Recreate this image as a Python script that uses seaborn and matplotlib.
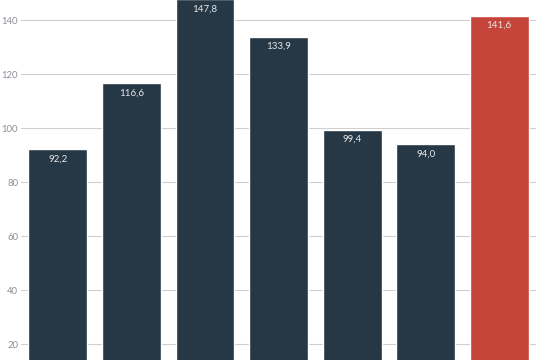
import matplotlib
matplotlib.use("Agg")
import matplotlib.pyplot as plt
import seaborn as sns
import pandas as pd

categories = ["A", "B", "C", "D", "E", "F", "G"]
values = [92.2, 116.6, 147.8, 133.9, 99.4, 94.0, 141.6]
highlight = [False, False, False, False, False, False, True]
yticks = [20, 40, 60, 80, 100, 120, 140]

sns.set_theme(style="white")
plt.rcParams['font.family'] = ['Lato', 'DejaVu Sans']

navy = "#263746"
red = "#c6453a"
colors = [red if h else navy for h in highlight]

df = pd.DataFrame({"cat": categories, "val": values})

fig = plt.figure(figsize=(5.4, 3.6), dpi=100)
ax = fig.add_axes([21/540, 0, 515/540, 1])
sns.barplot(data=df, x="cat", y="val", hue="cat", palette=colors, legend=False,
            width=0.8, saturation=1, ax=ax, zorder=2)

ax.set_ylim(14.2, 147.5)
ax.set_xlim(-0.5, len(categories) - 0.5)
ax.set_yticks(yticks)
ax.set_yticklabels([str(t) for t in yticks])
ax.yaxis.grid(True, color="#cfcfcf", linewidth=0.8, zorder=0)
ax.set_axisbelow(True)
ax.tick_params(axis="y", length=0, pad=2, labelsize=6.8, labelcolor="#8a8f96")
ax.set_xticks([])
ax.set_xlabel("")
ax.set_ylabel("")
for s in ax.spines.values():
    s.set_visible(False)

for i, v in enumerate(values):
    ax.annotate(f"{v:.1f}".replace(".", ","), xy=(i, v), xytext=(0, -7),
                textcoords="offset points", ha="center", va="center",
                fontsize=7, color="#e8e8e8", annotation_clip=False)

fig.savefig("out.png", dpi=100)
